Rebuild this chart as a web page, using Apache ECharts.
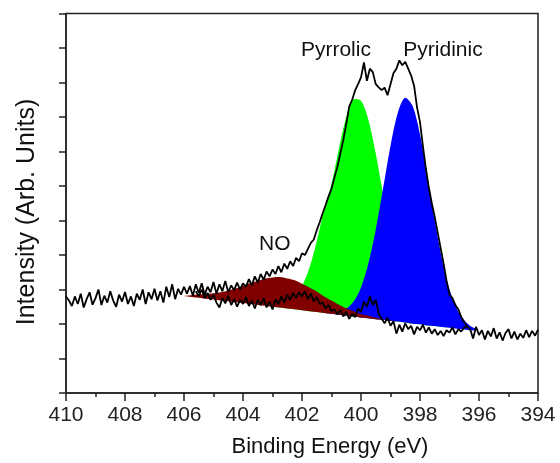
<!DOCTYPE html>
<html>
<head>
<meta charset="utf-8">
<script src="https://cdn.jsdelivr.net/npm/echarts@6/dist/echarts.min.js"></script>
<style>
html,body{margin:0;padding:0;background:#fff;}
#chart{width:560px;height:463px;}
</style>
</head>
<body>
<div id="chart"></div>
<script>
// ---------- data ----------
// Main N 1s spectrum, binding energy 410.0 -> 394.0 eV in 0.1 eV steps
const spectrumStart = 410.0;
const spectrumStep = 0.1;
const spectrumIntensity = [
  2.80, 2.68, 2.52, 2.80, 2.58, 2.88, 2.48, 2.72, 2.92, 2.56,
  2.75, 3.00, 2.55, 2.82, 2.62, 2.95, 2.68, 2.50, 2.85, 2.65,
  2.93, 2.58, 2.80, 2.52, 2.88, 2.70, 3.00, 2.58, 2.92, 2.72,
  3.02, 2.68, 2.95, 2.62, 3.08, 2.78, 3.15, 2.72, 3.02, 2.85,
  3.08,
  2.88, 3.10, 2.82, 3.15, 2.90, 3.18, 2.85, 3.08, 2.92, 3.22,
  2.88, 3.15, 2.95, 3.25, 2.92, 3.12, 2.98, 3.20, 3.00, 3.18,
  3.08, 3.30, 3.12, 3.38, 3.20, 3.45, 3.28, 3.52, 3.38, 3.58,
  3.45, 3.68, 3.50, 3.75, 3.60, 3.82, 3.68, 3.92, 3.82, 4.05,
  4.00, 4.18, 4.35, 4.45, 4.72, 4.95, 5.21, 5.45, 5.70, 5.92,
  6.25, 6.55, 6.95, 7.33, 7.80, 8.30, 8.50, 8.77, 8.95, 9.15,
  9.58, 9.05, 9.40, 9.30, 8.95, 8.86, 8.78, 8.85, 8.63, 8.95,
  9.27, 9.40, 9.64, 9.50, 9.60, 9.40, 9.20, 8.90, 8.28, 7.85,
  7.15, 6.50, 5.95, 5.50, 5.10, 4.65, 4.20, 3.75, 3.25, 2.85,
  2.75, 2.55, 2.42, 2.20, 2.05, 1.93,
  1.85, 1.58, 1.92, 1.68, 1.82, 1.55, 1.80, 1.64, 1.88, 1.58,
  1.76, 1.52, 1.74, 1.85, 1.58, 1.78, 1.55, 1.72, 1.60, 1.82,
  1.62, 1.80, 1.66, 1.84
];

// Second (lower) trace, 405.6 -> 396.4 eV in 0.1 eV steps
const lowerStart = 405.6;
const lowerStep = 0.1;
const lowerIntensity = [
  2.95, 2.80, 3.00, 2.75, 2.90, 2.70, 2.85, 2.62, 2.48, 2.75,
  2.60, 2.82, 2.55, 2.72, 2.50, 2.70, 2.58, 2.78, 2.52, 2.68,
  2.45, 2.70, 2.55, 2.75, 2.48, 2.65, 2.42, 2.72, 2.58, 2.80,
  2.62, 2.85, 2.70, 2.90, 2.75, 2.92, 2.80, 2.95, 2.72, 2.88,
  2.65, 2.78, 2.58, 2.62, 2.45, 2.55, 2.38, 2.42, 2.28, 2.40,
  2.22, 2.35, 2.15, 2.30, 2.20, 2.45, 2.35, 2.65, 2.50, 2.80,
  2.55, 2.70, 2.30, 2.15, 2.02, 2.18, 1.95, 2.08, 1.72, 1.98,
  1.78, 2.02, 1.85, 1.95, 1.70, 1.92, 1.82, 1.98, 1.75, 1.90,
  1.72, 1.85, 1.68, 1.80, 1.65, 1.82, 1.75, 1.90, 1.70, 1.85,
  1.78, 1.90, 1.93
];

// Fitted components (heights above the background)
const componentEnergies = [
  406.00, 405.75, 405.50, 405.25, 405.00, 404.75, 404.50, 404.25, 404.00, 403.75,
  403.50, 403.25, 403.00, 402.75, 402.50, 402.25, 402.00, 401.75, 401.50, 401.25,
  401.00, 400.75, 400.50, 400.25, 400.00, 399.75, 399.50, 399.25, 399.00, 398.75,
  398.50, 398.25, 398.00, 397.75, 397.50, 397.25, 397.00, 396.75, 396.50, 396.25,
  396.00
];
const background = [
  2.81, 2.78, 2.76, 2.73, 2.71, 2.68, 2.66, 2.63, 2.61, 2.58,
  2.55, 2.53, 2.50, 2.48, 2.45, 2.43, 2.40, 2.37, 2.35, 2.32,
  2.30, 2.27, 2.25, 2.22, 2.19, 2.17, 2.14, 2.12, 2.09, 2.07,
  2.04, 2.01, 1.99, 1.96, 1.94, 1.91, 1.89, 1.86, 1.84, 1.81,
  1.79
];
const pyrrolic = [
  0, 0, 0, 0, 0, 0, 0, 0, 0, 0,
  0, 0, 0.03, 0.08, 0.18, 0.38, 0.70, 1.25, 2.05, 3.00,
  3.75, 4.80, 5.75, 6.30, 6.28, 5.75, 4.80, 3.65, 2.55, 1.65,
  0.98, 0.55, 0.28, 0.13, 0.05, 0.02, 0, 0, 0, 0,
  0
];
const pyridinic = [
  0, 0, 0, 0, 0, 0, 0, 0, 0, 0,
  0, 0, 0, 0, 0, 0, 0, 0, 0, 0.01,
  0.03, 0.08, 0.19, 0.43, 0.87, 1.59, 2.60, 3.82, 5.07, 6.06,
  6.52, 6.31, 5.51, 4.33, 3.07, 1.96, 1.12, 0.58, 0.27, 0.11,
  0.04
];
const nitrogenOxide = [
  0, 0.05, 0.10, 0.14, 0.18, 0.24, 0.31, 0.40, 0.50, 0.61,
  0.70, 0.79, 0.85, 0.88, 0.87, 0.84, 0.77, 0.69, 0.59, 0.48,
  0.38, 0.29, 0.21, 0.15, 0.10, 0.07, 0.04, 0.02, 0.01, 0,
  0, 0, 0, 0, 0, 0, 0, 0, 0, 0,
  0
];

// Annotations
const annotationNames = ['Pyrrolic', 'Pyridinic', 'NO'];
const annotationEnergy = [400.85, 397.22, 402.92];
const annotationIntensity = [9.93, 9.93, 4.32];

// Axes
const xMin = 394, xMax = 410, xInterval = 2;
const yMin = 0, yMax = 11, yInterval = 1;
const xTitle = 'Binding Energy (eV)';
const yTitle = 'Intensity (Arb. Units)';

// ---------- build ----------
const FONT = 'Liberation Sans, Arial, sans-serif';
const pairs = (start, step, vals) => vals.map((v, i) => [+(start - i * step).toFixed(2), v]);
// rows are [intensity, energy] so that the intensity column is the stacked one
const onGridYX = vals => vals.map((v, i) => [v, componentEnergies[i]]);

function component(stackId, name, heights, color) {
  return [
    { type: 'line', stack: stackId, stackStrategy: 'all', data: onGridYX(background),
      encode: { x: 1, y: 0 }, symbol: 'none', lineStyle: { opacity: 0, width: 0 },
      silent: true, animation: false },
    { type: 'line', name: name, stack: stackId, stackStrategy: 'all', data: onGridYX(heights),
      encode: { x: 1, y: 0 }, symbol: 'none', smooth: 0.3, lineStyle: { width: 0, opacity: 0 },
      areaStyle: { color: color, opacity: 1 }, silent: true, animation: false }
  ];
}

const chart = echarts.init(document.getElementById('chart'), null, { renderer: 'canvas' });
chart.setOption({
  backgroundColor: '#fff',
  animation: false,
  grid: { left: 66, right: 22, top: 13.5, bottom: 70, show: true,
          borderColor: '#222', borderWidth: 1.5, backgroundColor: 'transparent' },
  xAxis: {
    type: 'value', min: xMin, max: xMax, interval: xInterval, inverse: true,
    axisLine: { lineStyle: { color: '#222', width: 1.5 } },
    axisTick: { length: 8, lineStyle: { color: '#222', width: 1.5 } },
    minorTick: { show: true, splitNumber: 2, length: 4, lineStyle: { color: '#222', width: 1.5 } },
    axisLabel: { fontSize: 21, color: '#222', fontFamily: FONT, margin: 12 },
    splitLine: { show: false }
  },
  yAxis: {
    type: 'value', min: yMin, max: yMax, interval: yInterval,
    axisLine: { show: true, lineStyle: { color: '#222', width: 1.5 } },
    axisTick: { show: true, length: 7, lineStyle: { color: '#222', width: 1.5 } },
    axisLabel: { show: false },
    splitLine: { show: false }
  },
  series: [
    ...component('g', 'Pyrrolic', pyrrolic, '#00ff00'),
    ...component('b', 'Pyridinic', pyridinic, '#0000ff'),
    ...component('r', 'NO', nitrogenOxide, '#800000'),
    { type: 'line', name: 'lower', data: pairs(lowerStart, lowerStep, lowerIntensity),
      symbol: 'none', lineStyle: { color: '#000', width: 1.8 }, silent: true },
    { type: 'line', name: 'spectrum', data: pairs(spectrumStart, spectrumStep, spectrumIntensity),
      symbol: 'none', lineStyle: { color: '#000', width: 1.8 }, silent: true }
  ]
});

// text annotations placed through the axes' scales
const texts = annotationNames.map((n, i) => {
  const p = chart.convertToPixel({ gridIndex: 0 }, [annotationEnergy[i], annotationIntensity[i]]);
  return { type: 'text', x: p[0], y: p[1], silent: true,
           style: { text: n, fontSize: 21, fontFamily: FONT, fill: '#111',
                    align: 'center', verticalAlign: 'middle' } };
});
texts.push({ type: 'text', x: 330, y: 447, silent: true,
             style: { text: xTitle, fontSize: 22, fontFamily: FONT, fill: '#111',
                      align: 'center', verticalAlign: 'middle' } });
texts.push({ type: 'text', x: 27, y: 212, rotation: Math.PI / 2, silent: true,
             style: { text: yTitle, fontSize: 25, fontFamily: FONT, fill: '#111',
                      align: 'center', verticalAlign: 'middle' } });
chart.setOption({ graphic: texts });
</script>
</body>
</html>
